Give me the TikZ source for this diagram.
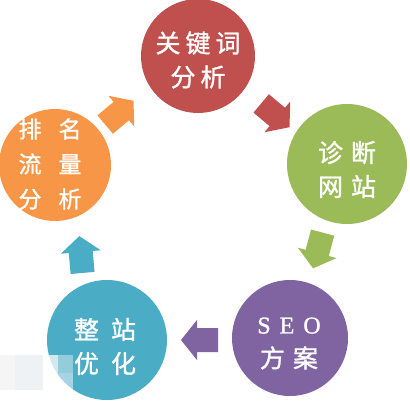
\documentclass[tikz,border=0pt]{standalone}
\usepackage{fontspec}
\setmainfont{Liberation Serif}[FakeBold=1.2]
\newfontfamily\cjk{Noto Sans CJK SC}[FakeBold=1.2]
\definecolor{cred}{HTML}{C0504D}
\definecolor{cgreen}{HTML}{9BBB59}
\definecolor{cpurple}{HTML}{8064A2}
\definecolor{cblue}{HTML}{4BACC6}
\definecolor{corange}{HTML}{F79646}
\definecolor{mosA}{HTML}{F5F5F5}
\definecolor{mosB}{HTML}{EEF2F4}
\begin{document}
\begin{tikzpicture}[x=1pt,y=1pt,
  bubble/.style={circle, inner sep=0pt, draw=none},
  txt/.style={text=white, font=\cjk\fontsize{25}{34}\selectfont, align=center, inner sep=0pt},
  barrow/.pic={\fill[#1] (-18,-12) -- (3,-12) -- (3,-20) -- (19,0) -- (3,20) -- (3,12) -- (-18,12) -- cycle;}]
\useasboundingbox (0,0) rectangle (410,400);
\fill[white] (0,0) rectangle (410,400);
% circles
\node[bubble, fill=cred, minimum size=114pt] (kw) at (198,344) {};
\node[bubble, fill=cgreen, minimum size=120pt] (zd) at (347,236) {};
\node[bubble, fill=cpurple, minimum size=116pt] (seo) at (290,62) {};
\node[bubble, fill=cblue, minimum size=120pt] (zz) at (107,60) {};
\node[bubble, fill=corange, minimum size=112pt] (pm) at (55,235) {};
% texts
\node[txt] (kwt) at (198,340) {关\kern5pt 键\kern5pt 词\\分\kern5pt 析};
\node[txt] (zdt) at (347,230.5) {诊\kern8pt 断\\网\kern8pt 站};
\node[txt] (seot) at (289,56.5) {{\rmfamily\fontsize{24}{34}\selectfont S\kern9pt E\kern9pt O}\\方\kern8pt 案};
\node[txt] (zzt) at (105,53.5) {整\kern12pt 站\\优\kern12pt 化};
\node[txt, font=\cjk\fontsize{23}{35}\selectfont] (pmt) at (50,236) {排\kern17pt 名\\流\kern17pt 量\\分\kern17pt 析};
% arrows
\pic[rotate=40] at (119,287) {barrow=corange};
\pic[rotate=-40] at (275,285) {barrow=cred};
\pic[rotate=-105] at (318,150) {barrow=cgreen};
\pic[rotate=180] at (200,60) {barrow=cpurple};
\pic[rotate=95] at (81,145) {barrow=cblue};
% mosaic
\fill[mosA] (0,10) rectangle (15,45);
\fill[mosB] (15,10) rectangle (43,45);
\fill[white, opacity=0.75] (43,27) rectangle (58,45);
\fill[white, opacity=0.4] (58,27) rectangle (73,45);
\fill[white, opacity=0.6] (43,10) rectangle (58,27);
\fill[white, opacity=0.5] (58,10) rectangle (73,27);
\end{tikzpicture}
\end{document}
